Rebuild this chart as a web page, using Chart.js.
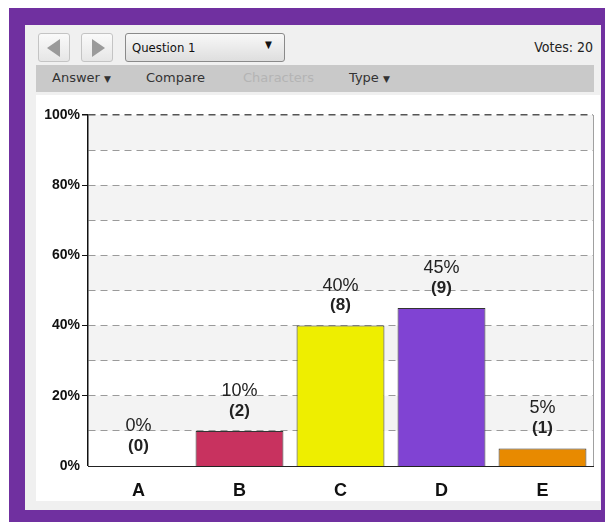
<!DOCTYPE html>
<html>
<head>
<meta charset="utf-8">
<script src="https://cdn.jsdelivr.net/npm/chart.js@4"></script>
<style>
  html, body { margin: 0; padding: 0; background: #fff; width: 605px; height: 522px; overflow: hidden; }
  #frame { position: absolute; left: 9px; top: 8px; width: 596px; height: 514px; background: #7030a0; }
  #panel { position: absolute; left: 25px; top: 25px; width: 576px; height: 485px; background: #f0f0f0; }
  .btn { position: absolute; top: 33px; width: 32px; height: 29px; border: 1px solid #c4c4c4; border-radius: 3px;
         background: linear-gradient(#fafafa, #e6e6e6); box-sizing: border-box; }
  .tri { position: absolute; top: 5px; width: 0; height: 0; border-top: 9px solid transparent; border-bottom: 9px solid transparent; }
  #drop { position: absolute; left: 125px; top: 33px; width: 160px; height: 29px; border: 1px solid #8a8a8a; border-radius: 3px;
          background: linear-gradient(#f8f8f8, #dedede); box-sizing: border-box; font: 13px "DejaVu Sans Condensed", "DejaVu Sans", sans-serif; color: #111; }
  #votes { position: absolute; right: 12px; top: 39px; font: 14px "DejaVu Sans Condensed", "DejaVu Sans", sans-serif; color: #222; }
  #bar2 { position: absolute; left: 36px; top: 65px; width: 558px; height: 27px; background: #c9c9c9;
          font: 13px "DejaVu Sans", sans-serif; color: #333; }
  #bar2 span { position: absolute; top: 5px; }
  #box { position: absolute; left: 36px; top: 95px; width: 564px; height: 406px; background: #fff; }
  #wrap { position: absolute; left: 36px; top: 95px; width: 558px; height: 406px; }
</style>
</head>
<body>
<div id="frame"></div>
<div id="panel"></div>
<div class="btn" style="left:38px"><div class="tri" style="left:8px;border-right:13px solid #9a9a9a"></div></div>
<div class="btn" style="left:81px"><div class="tri" style="left:10px;border-left:13px solid #9a9a9a"></div></div>
<div id="drop"><span style="position:absolute;left:6px;top:6px">Question 1</span><span style="position:absolute;left:139px;top:5px;font-size:10px">&#9660;</span></div>
<div id="votes">Votes: 20</div>
<div id="bar2">
  <span style="left:16px">Answer <small style="font-size:9px">&#9660;</small></span>
  <span style="left:110px">Compare</span>
  <span style="left:207px;color:#b4b4b4">Characters</span>
  <span style="left:313px">Type <small style="font-size:9px">&#9660;</small></span>
</div>
<div id="box"></div>
<div id="wrap"><canvas id="chart" width="558" height="406"></canvas></div>
<script>
var categories = ['A', 'B', 'C', 'D', 'E'];
var percentValues = [0, 10, 40, 45, 5];
var voteCounts = [0, 2, 8, 9, 1];
var barColors = ['#c8325f', '#c8325f', '#eeee00', '#8043d3', '#e88a00'];
var yTickLabels = ['0%', '20%', '40%', '60%', '80%', '100%'];

// alternating bands + right border + labels above bars
var extras = {
  id: 'extras',
  beforeDraw: function (chart) {
    var ctx = chart.ctx, y = chart.scales.y, a = chart.chartArea;
    ctx.save();
    ctx.fillStyle = '#f3f3f3';
    for (var v = 10; v < 100; v += 20) {
      var t = y.getPixelForValue(v + 10), b = y.getPixelForValue(v);
      ctx.fillRect(a.left, t, a.right - a.left, b - t);
    }
    ctx.restore();
  },
  afterDraw: function (chart) {
    var ctx = chart.ctx, a = chart.chartArea;
    ctx.save();
    ctx.strokeStyle = '#a0a0a0';
    ctx.lineWidth = 1;
    ctx.beginPath();
    ctx.moveTo(a.right + 0.5, a.top);
    ctx.lineTo(a.right + 0.5, a.bottom);
    ctx.stroke();
    var meta = chart.getDatasetMeta(0);
    ctx.textAlign = 'center';
    ctx.textBaseline = 'middle';
    ctx.fillStyle = '#222';
    meta.data.forEach(function (bar, i) {
      ctx.font = '18px "Liberation Sans", Arial, sans-serif';
      ctx.fillText(percentValues[i] + '%', bar.x, bar.y - 40);
      ctx.font = 'bold 17px "Liberation Sans", Arial, sans-serif';
      ctx.fillText('(' + voteCounts[i] + ')', bar.x, bar.y - 20);
    });
    ctx.restore();
  }
};

new Chart(document.getElementById('chart'), {
  type: 'bar',
  data: {
    labels: categories,
    datasets: [{
      data: percentValues,
      backgroundColor: barColors,
      borderColor: '#333',
      borderWidth: 1,
      borderSkipped: 'bottom',
      barPercentage: 0.87,
      categoryPercentage: 1
    }]
  },
  options: {
    responsive: false,
    animation: false,
    layout: { padding: { top: 20, right: 1, left: 0, bottom: 0 } },
    plugins: { legend: { display: false }, tooltip: { enabled: false } },
    scales: {
      x: {
        afterFit: function (s) { s.height = 35; },
        grid: { display: false },
        border: { color: '#222', width: 1 },
        ticks: { color: '#111', padding: 6, font: { family: '"Liberation Sans", Arial, sans-serif', size: 18, weight: 'bold' } }
      },
      y: {
        min: 0, max: 100,
        afterFit: function (s) { s.width = 52; },
        afterBuildTicks: function (s) {
          s.ticks = [];
          for (var v = 0; v <= 100; v += 10) s.ticks.push({ value: v });
        },
        border: { color: '#111', width: 1.5, dash: [7, 5] },
        grid: {
          color: function (c) { return c.tick && c.tick.value === 100 ? '#555' : '#9a9a9a'; },
          tickColor: function (c) { return c.tick && c.tick.value % 20 === 0 ? '#111' : 'rgba(0,0,0,0)'; },
          tickLength: 6,
          lineWidth: function (c) { return c.tick && c.tick.value === 0 ? 0 : (c.tick && c.tick.value === 100 ? 1.5 : 1); },
          tickBorderDash: [0]
        },
        ticks: {
          padding: 2,
          color: '#111',
          font: { family: '"Liberation Sans", Arial, sans-serif', size: 14, weight: 'bold' },
          callback: function (v) { return v % 20 === 0 ? yTickLabels[v / 20] : ''; }
        }
      }
    }
  },
  plugins: [extras]
});
</script>
</body>
</html>
